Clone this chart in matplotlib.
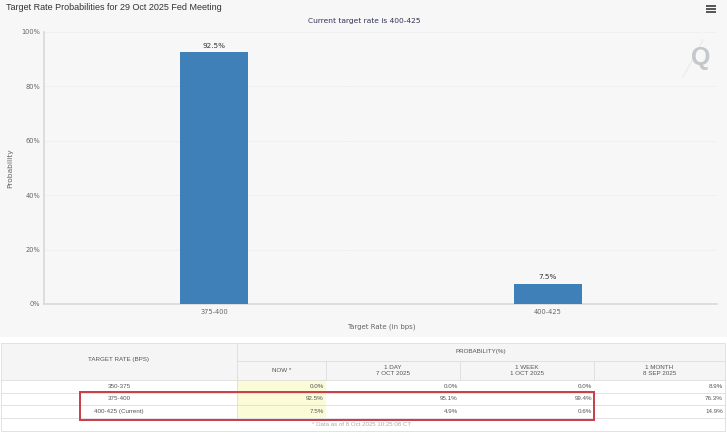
"""Fed target rate probabilities: bar chart with the probability table below it."""
import matplotlib
matplotlib.use("Agg")
import matplotlib.pyplot as plt
from matplotlib.patches import Rectangle

target_rates = ["375-400", "400-425"]
probabilities = [92.5, 7.5]
y_ticks = [0, 20, 40, 60, 80, 100]

table_rates = ["350-375", "375-400", "400-425 (Current)"]
now_values = ["0.0%", "92.5%", "7.5%"]
day_values = ["0.0%", "95.1%", "4.9%"]
week_values = ["0.0%", "99.4%", "0.6%"]
month_values = ["8.9%", "76.3%", "14.9%"]
column_titles = ["NOW *", "1 DAY\n7 OCT 2025", "1 WEEK\n1 OCT 2025", "1 MONTH\n8 SEP 2025"]

W, H = 727, 434
bg_color = "#f7f7f7"
text_color = "#666666"
line_color = "#dddddd"
bar_color = "#4080b8"

plt.rcParams["font.family"] = ["Liberation Sans", "DejaVu Sans"]

fig = plt.figure(figsize=(W / 100, H / 100), dpi=100)
fig.set_facecolor("white")

# page layer in pixel coordinates, for the panel and the table
page = fig.add_axes([0, 0, 1, 1], zorder=0)
page.set_xlim(0, W)
page.set_ylim(H, 0)
page.axis("off")
page.add_patch(Rectangle((0, 0), W, 337, facecolor=bg_color, edgecolor="none"))

page.text(6, 7.5, "Target Rate Probabilities for 29 Oct 2025 Fed Meeting", fontsize=6.5,
          color="#333333", va="center", ha="left")
page.text(364, 21, "Current target rate is 400-425", fontsize=5.4, color="#333355",
          family="DejaVu Sans", va="center", ha="center")

# menu icon
for y in [5.5, 8.5, 11.5]:
    page.plot([706, 716], [y, y], color="#555555", linewidth=1.4, solid_capstyle="butt")

# watermark
page.plot([683, 703], [77, 40], color="#eaeaea", linewidth=0.8)
page.text(701, 58, "Q", fontsize=18, fontweight="bold", color="#c4c8cc", ha="center", va="center",
          zorder=5)

# chart
ax = fig.add_axes([44 / W, 1 - 304 / H, (717 - 44) / W, (304 - 32) / H], zorder=1)
ax.patch.set_alpha(0)
positions = range(len(target_rates))
bars = ax.bar(positions, probabilities, width=68 / 334, color=bar_color, zorder=3)
for bar, value in zip(bars, probabilities):
    ax.annotate(f"{value}%", (bar.get_x() + bar.get_width() / 2, value), xytext=(0, 2.5),
                textcoords="offset points", ha="center", va="bottom", fontsize=5.2,
                family="DejaVu Sans", color="#333333")

ax.set_xlim(-170 / 334, 1 + 169 / 334)
ax.set_ylim(0, 100)
ax.set_xticks(list(positions), target_rates)
ax.set_yticks(y_ticks, [f"{t}%" for t in y_ticks])
ax.tick_params(axis="both", length=0, labelsize=4.8, labelcolor=text_color)
ax.tick_params(axis="x", pad=3.5)
ax.tick_params(axis="y", pad=2.5)
for label in ax.get_xticklabels() + ax.get_yticklabels():
    label.set_family("DejaVu Sans")
ax.grid(visible=True, axis="y", color="#e6e6e6", linestyle=":", linewidth=0.7)
ax.set_axisbelow(True)
ax.set_xlabel("Target Rate (in bps)", fontsize=5.0, color=text_color, family="DejaVu Sans")
ax.xaxis.set_label_coords((381 - 44) / (717 - 44), -19 / 272)
ax.set_ylabel("Probability", fontsize=5.4, color=text_color, family="DejaVu Sans")
ax.yaxis.set_label_coords((13 - 44) / (717 - 44), (304 - 168) / 272)
for side in ["top", "right"]:
    ax.spines[side].set_visible(False)
for side in ["left", "bottom"]:
    ax.spines[side].set_color("#d8d8d8")
    ax.spines[side].set_linewidth(1.2)

# table
col_x = [237, 326, 460, 594, 725]
row_y = [380, 392.5, 405, 418]
head_color = "#f5f5f5"
page.add_patch(Rectangle((1, 343), 724, 37, facecolor=head_color, edgecolor="none"))
page.add_patch(Rectangle((237, 380), 89, 38, facecolor="#fbfbd8", edgecolor="none"))
page.add_patch(Rectangle((1, 343), 724, 88, facecolor="none", edgecolor="#e2e2e2", linewidth=0.7))

for y in row_y:
    page.plot([1, 725], [y, y], color=line_color, linewidth=0.6)
page.plot([237, 725], [361, 361], color=line_color, linewidth=0.6)
page.plot([237, 237], [343, 418], color=line_color, linewidth=0.6)
for x in col_x[1:4]:
    page.plot([x, x], [361, 380], color=line_color, linewidth=0.6)

cell_font = {"fontsize": 4.5, "color": "#555555", "va": "center"}
page.text(119, 360, "TARGET RATE (BPS)", ha="center", **cell_font)
page.text(481, 352, "PROBABILITY(%)", ha="center", **cell_font)
for i, title in enumerate(column_titles):
    page.text((col_x[i] + col_x[i + 1]) / 2, 370.5, title, ha="center",
              linespacing=1.05, **cell_font)

columns = [now_values, day_values, week_values, month_values]
for r, rate in enumerate(table_rates):
    y = (row_y[r] + row_y[r + 1]) / 2
    page.text(119, y, rate, ha="center", **cell_font)
    for c, values in enumerate(columns):
        page.text(col_x[c + 1] - 2, y, values[r], ha="right", **cell_font)

page.text(362, 424.5, "* Data as of 8 Oct 2025 10:25:08 CT", ha="center", va="center",
          fontsize=4.4, color="#aaaaaa")

# red highlight
page.add_patch(Rectangle((80, 392), 514, 28, facecolor="none", edgecolor="#c83c46", linewidth=1.4,
                         zorder=4))

fig.savefig("out.png", dpi=100, facecolor=fig.get_facecolor())
plt.close(fig)
